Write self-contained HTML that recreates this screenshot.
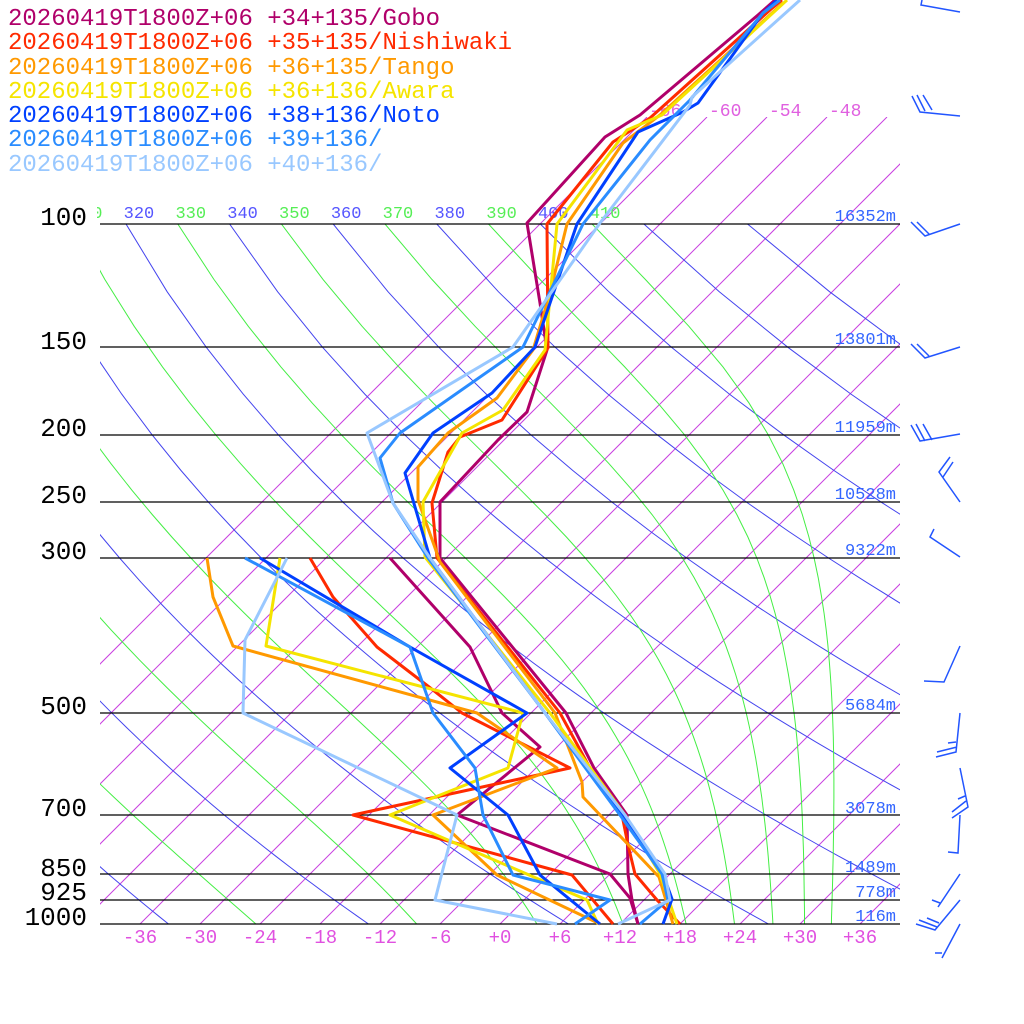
<!DOCTYPE html>
<html><head><meta charset="utf-8"><style>
html,body{margin:0;padding:0;background:#fff;}
svg{display:block;}
text{font-family:"Liberation Mono",monospace;}
</style></head><body>
<svg id="s" width="1024" height="1024" xmlns="http://www.w3.org/2000/svg">
<defs>
<clipPath id="cA"><rect x="100" y="224" width="800" height="700"/></clipPath>
<clipPath id="cI"><rect x="100" y="117" width="800" height="807"/></clipPath>
<clipPath id="cL"><rect x="97" y="190" width="810" height="40"/></clipPath>
</defs>
<g id="grid"></g>
<g id="plines" stroke="#000" stroke-width="1.3">
<line x1="100" y1="224" x2="900" y2="224"/><line x1="100" y1="347" x2="900" y2="347"/>
<line x1="100" y1="435" x2="900" y2="435"/><line x1="100" y1="502" x2="900" y2="502"/>
<line x1="100" y1="558" x2="900" y2="558"/><line x1="100" y1="713" x2="900" y2="713"/>
<line x1="100" y1="815" x2="900" y2="815"/><line x1="100" y1="874" x2="900" y2="874"/>
<line x1="100" y1="900" x2="900" y2="900"/><line x1="100" y1="924" x2="900" y2="924"/>
</g>
<g font-size="26" fill="#000" text-anchor="end">
<text x="87" y="225">100</text><text x="87" y="349">150</text><text x="87" y="436">200</text>
<text x="87" y="503">250</text><text x="87" y="559">300</text><text x="87" y="714">500</text>
<text x="87" y="816">700</text><text x="87" y="876">850</text><text x="87" y="900">925</text>
<text x="87" y="925">1000</text>
</g>
<g font-size="17" fill="#3366ff" text-anchor="end">
<text x="896" y="221">16352m</text><text x="896" y="344">13801m</text><text x="896" y="432">11959m</text>
<text x="896" y="499">10528m</text><text x="896" y="555">9322m</text><text x="896" y="710">5684m</text>
<text x="896" y="813">3078m</text><text x="896" y="872">1489m</text><text x="896" y="897">778m</text>
<text x="896" y="921">116m</text>
</g>
<g id="bot" font-size="19" fill="#e050e0" text-anchor="middle"></g>
<g fill="none" stroke-width="3" stroke-linejoin="round">
<polyline stroke="#b0006a" points="638,924 632,900 628,874 627,815 594,768 566,713 440,558 440,502 498,440 527,412 547,350 540,303 527,223 605,137 640,115 758,15 775,0"/>
<polyline stroke="#b0006a" points="390,558 470,647 502,713 540,747 457,815 610,874 630,898 638,924"/>
<polyline stroke="#ff2a00" points="680,924 657,900 635,874 628,845 622,815 590,768 560,713 437,558 432,503 448,452 460,437 502,420 548,348 547,224 613,142 650,118 770,10 782,0"/>
<polyline stroke="#ff2a00" points="310,558 333,597 377,647 433,690 462,713 570,768 353,815 572,875 613,924"/>
<polyline stroke="#ff9900" points="673,924 659,877 583,797 582,782 555,713 440,562 418,500 418,467 448,433 497,398 533,350 550,293 567,224 623,143 660,115 783,3"/>
<polyline stroke="#ff9900" points="207,558 213,597 233,646 477,713 557,768 433,815 497,875 600,924"/>
<polyline stroke="#f5e400" points="677,924 660,874 625,815 550,713 425,557 423,502 462,433 503,410 545,350 557,224 627,130 662,115 787,0"/>
<polyline stroke="#f5e400" points="280,558 266,646 523,713 508,768 390,815 587,900 598,924"/>
<polyline stroke="#0040ff" points="663,924 672,899 663,874 622,815 545,713 430,558 405,473 433,433 492,393 535,347 577,224 638,132 683,112 698,103 763,13 777,0"/>
<polyline stroke="#0040ff" points="260,558 410,647 527,713 450,768 508,815 540,875 600,924"/>
<polyline stroke="#2a8cff" points="640,924 668,900 662,874 620,815 545,713 428,558 393,503 380,458 400,433 523,347 583,224 650,140 690,100 763,13 780,0"/>
<polyline stroke="#2a8cff" points="245,558 410,647 433,713 475,768 483,815 513,875 610,900 575,924"/>
<polyline stroke="#99c8ff" points="618,924 670,900 665,874 625,815 545,713 430,558 393,503 367,433 513,347 600,223 690,105 692,97 800,0"/>
<polyline stroke="#99c8ff" points="287,558 245,640 243,713 457,815 435,900 557,924"/>
</g>
<g stroke="#2255ff" stroke-width="1.5" fill="none">
<path d="M960,12 L921,5 L922,0"/>
<path d="M960,116 L920,112 L912,96 M925,111 L917,95 M932,110 L923,95"/>
<path d="M960,224 L925,236 L911,222 M929,234 L917,222"/>
<path d="M960,347 L925,358 L911,344 M929,356 L917,344"/>
<path d="M960,434 L920,441 L911,425 M925,441 L916,424 M932,440 L923,424"/>
<path d="M960,502 L939,472 L950,457 M943,477 L953,462"/>
<path d="M960,557 L930,537 L934,529"/>
<path d="M960,646 L944,682 L924,681"/>
<path d="M960,713 L956,752 L936,757 M957,747 L937,752 M956,742 L948,743"/>
<path d="M960,768 L968,807 L952,818 M966,801 L952,812 M965,796 L958,799"/>
<path d="M960,815 L958,853 L948,852"/>
<path d="M960,874 L938,907 M940,903 L932,900"/>
<path d="M960,900 L935,930 L916,924 M937,927 L919,920 M939,923 L927,918"/>
<path d="M960,924 L942,958 M942,953 L935,953"/>
</g>
<g font-size="24">
<text x="8" y="25" fill="#b0006a">20260419T1800Z+06 +34+135/Gobo</text>
<text x="8" y="49" fill="#ff2a00">20260419T1800Z+06 +35+135/Nishiwaki</text>
<text x="8" y="74" fill="#ff9900">20260419T1800Z+06 +36+135/Tango</text>
<text x="8" y="98" fill="#f5e400">20260419T1800Z+06 +36+136/Awara</text>
<text x="8" y="122" fill="#0040ff">20260419T1800Z+06 +38+136/Noto</text>
<text x="8" y="146" fill="#2a8cff">20260419T1800Z+06 +39+136/</text>
<text x="8" y="171" fill="#99c8ff">20260419T1800Z+06 +40+136/</text>
</g>
</svg>
<script>
(function(){
var NS="http://www.w3.org/2000/svg";
var g=document.getElementById("grid");
function el(n,a,p){var e=document.createElementNS(NS,n);for(var k in a)e.setAttribute(k,a[k]);(p||g).appendChild(e);return e;}
function X(T,p){return 500+10*T+304*Math.log(1000/p);}
function Y(p){return 924-304*Math.log(1000/p);}
var gi=el("g",{"clip-path":"url(#cI)",stroke:"#c840e0","stroke-width":"1"});
for(var T=-66;T<=40;T+=6){
  el("line",{x1:500+10*T,y1:924,x2:500+10*T+807,y2:117},gi);
}
var lab=[-66,-60,-54,-48];
for(var i=0;i<lab.length;i++){var t=el("text",{x:500+10*lab[i]+809,y:116,"font-size":"18",fill:"#e060e0"});t.textContent=String(lab[i]);}
var gd=el("g",{"clip-path":"url(#cA)",stroke:"#4444ee","stroke-width":"1",fill:"none"});
var gl=el("g",{"clip-path":"url(#cL)","font-size":"17","text-anchor":"middle"});
for(var th=160;th<=440;th+=20){
  var pts=[];
  for(var p=100;p<=1000;p+=25){var Tc=th*Math.pow(p/1000,0.2857)-273.15;pts.push(X(Tc,p).toFixed(1)+","+Y(p).toFixed(1));}
  el("polyline",{points:pts.join(" ")},gd);
  var xl=X(th*Math.pow(0.1,0.2857)-273.15,100)+13;
  if(th<=400){var t=el("text",{x:xl,y:218,fill:"#5555ff"},gl);t.textContent=th;}
}
var gm=el("g",{"clip-path":"url(#cA)",stroke:"#44ee44","stroke-width":"1",fill:"none"});
var Rd=287.04,cp=1005.7,Lv=2.501e6,eps=0.622;
function rs(T,p){var tc=T-273.15;var es=6.112*Math.exp(17.67*tc/(tc+243.5));return eps*es/(p-es);}
for(var te=170;te<=410;te+=20){
  var T=te*Math.pow(0.1,0.2857);var pts=[];var p=100;
  pts.push(X(T-273.15,p).toFixed(1)+","+Y(p).toFixed(1));
  while(p<1000){
    var r=rs(T,p);
    var dTdp=(Rd*T+Lv*r)/(p*(cp+Lv*Lv*r*eps/(Rd*T*T)));
    T+=dTdp*1;p+=1;
    if(p%20==0)pts.push(X(T-273.15,p).toFixed(1)+","+Y(p).toFixed(1));
  }
  el("polyline",{points:pts.join(" ")},gm);
  var xl=X(te*Math.pow(0.1,0.2857)-273.15,100)+13;
  if(te>=290){var t=el("text",{x:xl,y:218,fill:"#55ee55"},gl);t.textContent=te;}
}
var gb=document.getElementById("bot");
for(var T=-36;T<=36;T+=6){var t=el("text",{x:500+10*T,y:943},gb);t.textContent=(T>=0?"+":"")+T;}
})();
</script>
</body></html>
